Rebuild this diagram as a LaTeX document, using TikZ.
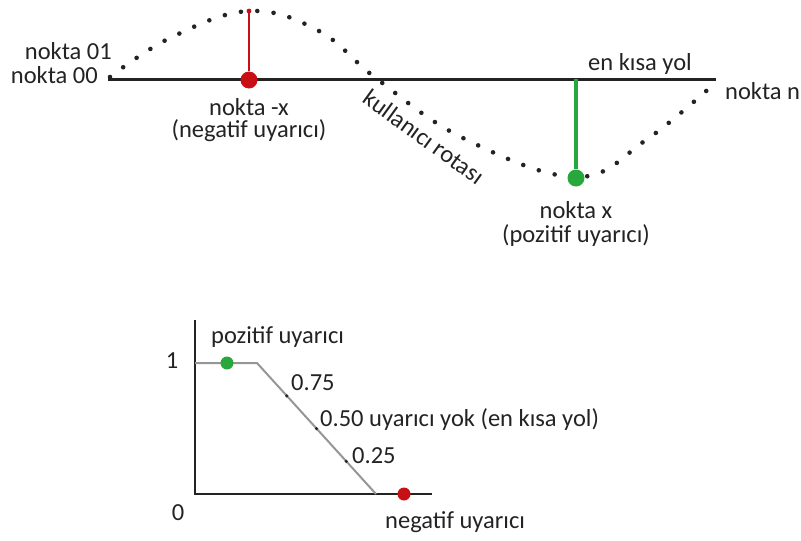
\documentclass[tikz,border=0pt]{standalone}
\usepackage{fontspec}
\setmainfont{Carlito}
\usetikzlibrary{calc}
\definecolor{rd}{RGB}{200,16,20}
\definecolor{gn}{RGB}{40,168,60}
\definecolor{gy}{RGB}{150,150,150}
\definecolor{tx}{RGB}{35,35,35}
\begin{document}
\begin{tikzpicture}[x=1pt,y=-1pt,
  lbl/.style={inner sep=0pt, font=\fontsize{24.5}{28}\selectfont, text=tx},
  dotpath/.style={line width=4.6pt, line cap=round, dash pattern=on 0pt off 16.4pt, tx},
  bigdot/.style={circle, inner sep=0pt, minimum size=17pt},
  smalldot/.style={circle, inner sep=0pt, minimum size=13pt},
  tick/.style={circle, fill=tx, inner sep=0pt, minimum size=3.5pt}]
\useasboundingbox (0,0) rectangle (801,541);
% top part
\coordinate (s) at (108,79);
\coordinate (e) at (716,79);
\coordinate (peak) at (249,11);
\coordinate (gtop) at (576,79);
\draw[dotpath] plot[smooth, tension=0.65] coordinates {(110,77) (170,38) (249,11) (319,31) (377,79) (463,138) (576,177) (646,140) (714,84)};
\draw[line width=3pt, tx] (s) -- (e);
\node[bigdot, fill=rd] (nx) at (249,80) {};
\draw[line width=2pt, rd] (nx) -- (peak);
\fill[rd] (peak) circle (2.4pt);
\node[bigdot, fill=gn] (px) at (576,178) {};
\draw[line width=3.2pt, gn] (gtop) -- (px);
\node[lbl, anchor=east] (n01) at (112,51) {nokta 01};
\node[lbl, anchor=east] (n00) at (98,75) {nokta 00};
\node[lbl] (nxl1) at (249,107) {nokta -x};
\node[lbl] (nxl2) at (249,131) {(negatif uyarıcı)};
\node[lbl, rotate=-36] (kr) at (424,137) {kullanıcı rotası};
\node[lbl] (eky) at (640,64) {en kısa yol};
\node[lbl, anchor=west] (nn) at (725,91) {nokta n};
\node[lbl] (pxl1) at (576,210) {nokta x};
\node[lbl] (pxl2) at (576,236) {(pozitif uyarıcı)};
% bottom chart
\coordinate (o) at (195,494);
\coordinate (ytop) at (195,320);
\coordinate (xend) at (432,494);
\coordinate (a) at (195,363);
\coordinate (b) at (257,363);
\coordinate (c) at (376,494);
\draw[line width=2.5pt, tx] (ytop) -- (o) -- (xend);
\draw[line width=2pt, gy] (a) -- (b) -- (c);
\node[smalldot, fill=gn] (pd) at (227,363) {};
\node[smalldot, fill=rd] (nd) at (404,494) {};
\node[tick] (t75) at ($(b)!0.25!(c)$) {};
\node[tick] (t50) at ($(b)!0.5!(c)$) {};
\node[tick] (t25) at ($(b)!0.75!(c)$) {};
\node[lbl] (one) at (172,361) {1};
\node[lbl] (zero) at (178,513) {0};
\node[lbl, anchor=west] (pu) at (211,337) {pozitif uyarıcı};
\node[lbl, anchor=west] (l75) at (291,383) {0.75};
\node[lbl, anchor=west] (l50) at (320,420) {0.50 uyarıcı yok (en kısa yol)};
\node[lbl, anchor=west] (l25) at (352,456) {0.25};
\node[lbl, anchor=west] (nu) at (385,522) {negatif uyarıcı};
\end{tikzpicture}
\end{document}
